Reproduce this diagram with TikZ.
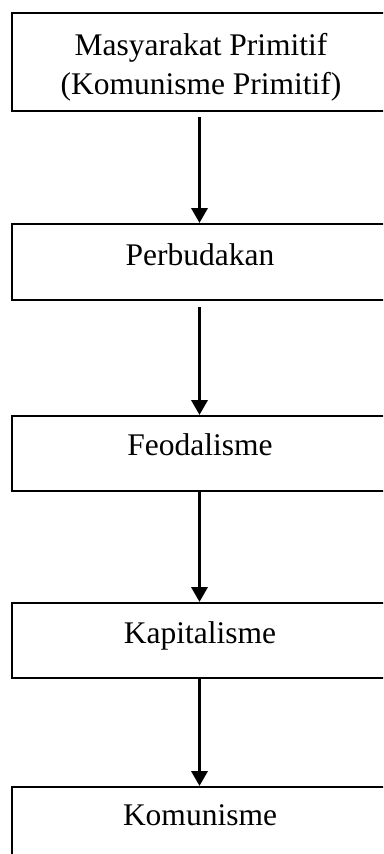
\documentclass[tikz,border=0pt]{standalone}
\usepackage{fontspec}
\setmainfont{Liberation Serif}
\usetikzlibrary{arrows.meta}
\begin{document}
\begin{tikzpicture}[x=1pt,y=-1pt,
  box/.style={draw=black,line width=2pt,rectangle,inner sep=0pt,anchor=north west,minimum width=375pt},
  lbl/.style={anchor=base,inner sep=0pt,font=\fontsize{31.5}{39}\selectfont,align=center},
  arr/.style={line width=3.5pt,-{Triangle[length=15pt,width=16pt]}}]
\useasboundingbox (0,0) rectangle (383,854);
\clip (0,0) rectangle (383,854);
\fill[white] (0,0) rectangle (383,854);
\node[box,minimum height=98pt] (b1) at (11,12) {};
\node[box,minimum height=76pt] (b2) at (11,223) {};
\node[box,minimum height=75pt] (b3) at (11,415) {};
\node[box,minimum height=75pt] (b4) at (11,602) {};
\node[box,minimum height=90pt] (b5) at (11,786) {};
\node[lbl] (t1) at (201,94) {Masyarakat Primitif\\(Komunisme Primitif)};
\node[lbl] (t2) at (200,265) {Perbudakan};
\node[lbl] (t3) at (200,455) {Feodalisme};
\node[lbl] (t4) at (200,643) {Kapitalisme};
\node[lbl] (t5) at (200,825) {Komunisme};
\draw[arr] ([yshift=-5pt]b1.south) -- (b2.north);
\draw[arr] ([yshift=-6pt]b2.south) -- (b3.north);
\draw[arr] (b3.south) -- (b4.north);
\draw[arr] (b4.south) -- (b5.north);
\end{tikzpicture}
\end{document}
